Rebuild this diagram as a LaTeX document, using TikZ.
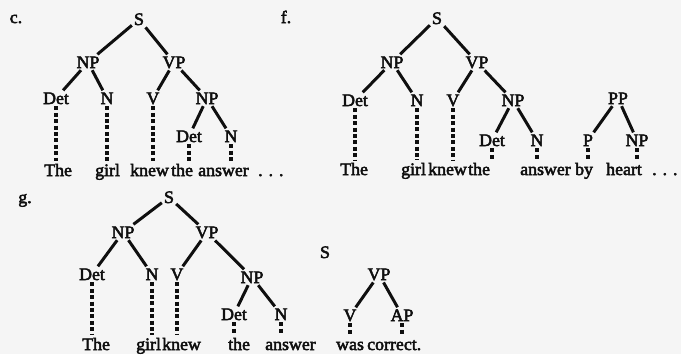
\documentclass[tikz,border=0pt]{standalone}
\usepackage{fontspec}
\setmainfont{Liberation Serif}[FakeStretch=1.02]
\definecolor{ink}{RGB}{15,15,15}
\definecolor{paper}{RGB}{245,245,245}
\newcommand\heavyon{\special{pdf:literal direct 2 Tr 0.5 w}}
\newcommand\heavyoff{\special{pdf:literal direct 0 Tr}}
\begin{document}
\begin{tikzpicture}[x=1pt,y=-1pt,
  lab/.style={inner sep=2pt, anchor=base, text=ink, font=\fontsize{17.5}{19}\selectfont,
    execute at begin node=\heavyon, execute at end node=\heavyoff},
  wd/.style={lab, anchor=base west, inner sep=0pt, text height=15pt, text depth=3pt},
  edge/.style={draw=ink, line width=3pt},
  dl/.style={draw=ink, line width=3.4pt, dash pattern=on 4pt off 2.4pt}]
\fill[paper] (0,0) rectangle (681,354);
\useasboundingbox (0,0) rectangle (681,354);
% ---------- tree c ----------
\node[lab] (clab) at (16,23) {c.};
\node[lab] (cS) at (139,25) {S};
\node[lab] (cNP) at (88,68) {NP};
\node[lab] (cVP) at (174,68) {VP};
\node[lab] (cDet) at (56,104) {Det};
\node[lab] (cN) at (107,104) {N};
\node[lab] (cV) at (153,104) {V};
\node[lab] (cNPb) at (207,104) {NP};
\node[lab] (cDetb) at (189,142) {Det};
\node[lab] (cNb) at (231,142) {N};
\node[wd] (cw1) at (44,176) {The};
\node[wd] (cw2) at (95,176) {girl};
\node[wd] (cw3) at (130,176) {knew};
\node[wd] (cw4) at (171,176) {the};
\node[wd] (cw5) at (198,176) {answer};
\node[wd] (cw6) at (258,176) {. . .};
\draw[edge] (cS) -- (cNP);
\draw[edge] (cS) -- (cVP);
\draw[edge] (cNP) -- (cDet);
\draw[edge] (cNP) -- (cN);
\draw[edge] (cVP) -- (cV);
\draw[edge] (cVP) -- (cNPb);
\draw[edge] (cNPb) -- (cDetb);
\draw[edge] (cNPb) -- (cNb);
\draw[dl] (cDet.south) -- (cDet.south |- cw1.north);
\draw[dl] (cN.south) -- (cN.south |- cw2.north);
\draw[dl] (cV.south) -- (cV.south |- cw3.north);
\draw[dl] (cDetb.south) -- (cDetb.south |- cw4.north);
\draw[dl] (cNb.south) -- (cNb.south |- cw5.north);
% ---------- tree f ----------
\node[lab] (flab) at (286,23) {f.};
\node[lab] (fS) at (437,24) {S};
\node[lab] (fNP) at (392,68) {NP};
\node[lab] (fVP) at (477,68) {VP};
\node[lab] (fDet) at (355,106) {Det};
\node[lab] (fN) at (417,106) {N};
\node[lab] (fV) at (453,106) {V};
\node[lab] (fNPb) at (513,106) {NP};
\node[lab] (fPP) at (618,104) {PP};
\node[lab] (fDetb) at (492,146) {Det};
\node[lab] (fNb) at (537,146) {N};
\node[lab] (fP) at (588,146) {P};
\node[lab] (fNPc) at (637,146) {NP};
\node[wd] (fw1) at (340,175) {The};
\node[wd] (fw2) at (401,175) {girl};
\node[wd] (fw3) at (428,175) {knew};
\node[wd] (fw4) at (468,175) {the};
\node[wd] (fw5) at (520,175) {answer};
\node[wd] (fw6) at (575,175) {by};
\node[wd] (fw7) at (606,175) {heart};
\node[wd] (fw8) at (652,175) {. . .};
\draw[edge] (fS) -- (fNP);
\draw[edge] (fS) -- (fVP);
\draw[edge] (fNP) -- (fDet);
\draw[edge] (fNP) -- (fN);
\draw[edge] (fVP) -- (fV);
\draw[edge] (fVP) -- (fNPb);
\draw[edge] (fNPb) -- (fDetb);
\draw[edge] (fNPb) -- (fNb);
\draw[edge] (fPP) -- (fP);
\draw[edge] (fPP) -- (fNPc);
\draw[dl] (fDet.south) -- (fDet.south |- fw1.north);
\draw[dl] (fN.south) -- (fN.south |- fw2.north);
\draw[dl] (fV.south) -- (fV.south |- fw3.north);
\draw[dl] (fDetb.south) -- (fDetb.south |- fw4.north);
\draw[dl] (fNb.south) -- (fNb.south |- fw5.north);
\draw[dl] (fP.south) -- (fP.south |- fw6.north);
\draw[dl] (fNPc.south) -- (fNPc.south |- fw7.north);
% ---------- tree g ----------
\node[lab] (glab) at (25,203) {g.};
\node[lab] (gS) at (169,203) {S};
\node[lab] (gNP) at (123,238) {NP};
\node[lab] (gVP) at (207,238) {VP};
\node[lab] (gDet) at (92,280) {Det};
\node[lab] (gN) at (152,280) {N};
\node[lab] (gV) at (177,280) {V};
\node[lab] (gNPb) at (252,283) {NP};
\node[lab] (gDetb) at (234,320) {Det};
\node[lab] (gNb) at (281,320) {N};
\node[lab] (hS) at (325,258) {S};
\node[lab] (hVP) at (379,280) {VP};
\node[lab] (hV) at (350,321) {V};
\node[lab] (hAP) at (402,321) {AP};
\node[wd] (gw1) at (82,350) {The};
\node[wd] (gw2) at (136,350) {girl};
\node[wd] (gw3) at (162,350) {knew};
\node[wd] (gw4) at (228,350) {the};
\node[wd] (gw5) at (265,350) {answer};
\node[wd] (gw6) at (336,350) {was};
\node[wd] (gw7) at (367,350) {correct.};
\draw[edge] (gS) -- (gNP);
\draw[edge] (gS) -- (gVP);
\draw[edge] (gNP) -- (gDet);
\draw[edge] (gNP) -- (gN);
\draw[edge] (gVP) -- (gV);
\draw[edge] (gVP) -- (gNPb);
\draw[edge] (gNPb) -- (gDetb);
\draw[edge] (gNPb) -- (gNb);
\draw[edge] (hVP) -- (hV);
\draw[edge] (hVP) -- (hAP);
\draw[dl] (gDet.south) -- (gDet.south |- gw1.north);
\draw[dl] (gN.south) -- (gN.south |- gw2.north);
\draw[dl] (gV.south) -- (gV.south |- gw3.north);
\draw[dl] (gDetb.south) -- (gDetb.south |- gw4.north);
\draw[dl] (gNb.south) -- (gNb.south |- gw5.north);
\draw[dl] (hV.south) -- (hV.south |- gw6.north);
\draw[dl] (hAP.south) -- (hAP.south |- gw7.north);
\end{tikzpicture}
\end{document}
